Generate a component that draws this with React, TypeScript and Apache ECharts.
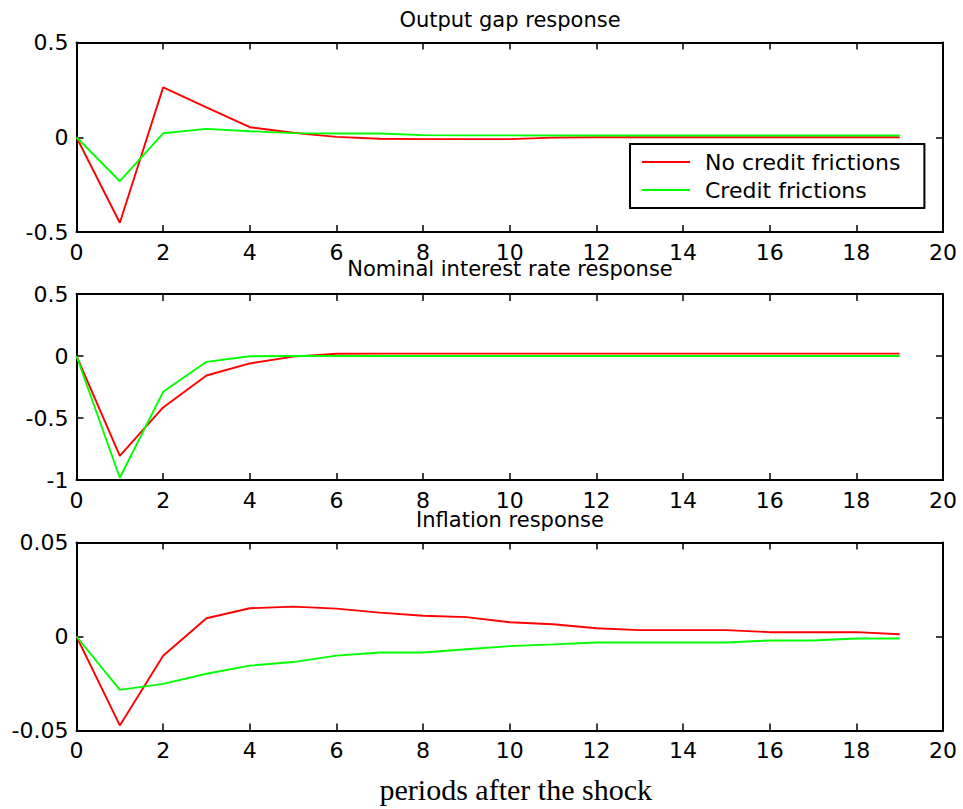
import React, { useEffect, useRef } from "react";
import * as echarts from "echarts";

const periods = [0, 1, 2, 3, 4, 5, 6, 7, 8, 9, 10, 11, 12, 13, 14, 15, 16, 17, 18, 19];

const seriesNames = ["No credit frictions", "Credit frictions"];
const panelTitles = ["Output gap response", "Nominal interest rate response", "Inflation response"];
const xLabel = "periods after the shock";

const outputGapNoFric = [0, -0.451, 0.263, 0.158, 0.053, 0.024, 0.002, -0.008, -0.01, -0.01, -0.01, -0.002, 0, 0, 0, 0, 0, 0, 0, 0];
const outputGapFric = [0, -0.232, 0.021, 0.044, 0.032, 0.022, 0.02, 0.02, 0.011, 0.01, 0.01, 0.009, 0.009, 0.009, 0.009, 0.009, 0.009, 0.009, 0.009, 0.009];

const rateNoFric = [0, -0.806, -0.415, -0.157, -0.06, -0.005, 0.018, 0.019, 0.019, 0.019, 0.019, 0.019, 0.019, 0.019, 0.019, 0.019, 0.019, 0.019, 0.019, 0.019];
const rateFric = [0, -0.982, -0.289, -0.047, -0.002, 0, 0, 0, 0, 0, 0, 0, 0, 0, 0, 0, 0, 0, 0, 0];

const inflNoFric = [0, -0.0473, -0.0102, 0.0097, 0.015, 0.0159, 0.0148, 0.0127, 0.011, 0.0103, 0.0076, 0.0065, 0.0044, 0.0034, 0.0034, 0.0034, 0.0023, 0.0023, 0.0023, 0.0012];
const inflFric = [0, -0.0284, -0.0252, -0.0198, -0.0155, -0.0136, -0.0102, -0.0085, -0.0085, -0.0068, -0.0051, -0.0042, -0.0032, -0.0032, -0.0032, -0.0032, -0.0021, -0.0021, -0.0011, -0.0011];

const yMins = [-0.5, -1, -0.05];
const yMaxs = [0.5, 0.5, 0.05];
const yIntervals = [0.5, 0.5, 0.05];

const xMin = 0;
const xMax = 20;
const xInterval = 2;

const RED = "#ff0000";
const GREEN = "#00ff00";

export default function App() {
  const ref = useRef<HTMLDivElement>(null);

  useEffect(() => {
    if (!ref.current) return;
    const chart = echarts.init(ref.current, undefined, { renderer: "svg" });

    const panels = [
      [outputGapNoFric, outputGapFric],
      [rateNoFric, rateFric],
      [inflNoFric, inflFric],
    ];

    const grids = [
      { left: 76.5, right: 20, top: 42.5, height: 189.5 },
      { left: 76.5, right: 20, top: 294, height: 186 },
      { left: 76.5, right: 20, top: 542.5, height: 188 },
    ];

    const labelFont = { fontFamily: "DejaVu Sans", fontSize: 22, color: "#000" };
    const axisLine = { show: true, onZero: false, lineStyle: { color: "#000", width: 2 } };
    const axisTick = { show: true, inside: true, length: 7, lineStyle: { color: "#000", width: 1.5 } };

    const xAxes: any[] = [];
    const yAxes: any[] = [];
    const series: any[] = [];

    grids.forEach((_, i) => {
      const base = {
        type: "value",
        gridIndex: i,
        min: xMin,
        max: xMax,
        interval: xInterval,
        splitLine: { show: false },
        axisLine,
        axisTick,
      };
      xAxes.push({
        ...base,
        position: "bottom",
        axisLabel: { ...labelFont, margin: 9 },
        ...(i === 2
          ? {
              name: xLabel,
              nameLocation: "middle",
              nameGap: 44,
              nameTextStyle: { fontFamily: "Liberation Serif", fontSize: 30, color: "#000", padding: [0, 0, 0, 12] },
            }
          : {}),
      });
      xAxes.push({ ...base, position: "top", axisLabel: { show: false } });

      const ybase = {
        type: "value",
        gridIndex: i,
        min: yMins[i],
        max: yMaxs[i],
        interval: yIntervals[i],
        splitLine: { show: false },
        axisLine,
        axisTick,
      };
      yAxes.push({ ...ybase, position: "left", axisLabel: { ...labelFont, margin: 8 } });
      yAxes.push({ ...ybase, position: "right", axisLabel: { show: false } });

      const [noFric, fric] = panels[i];
      series.push({
        name: seriesNames[0],
        type: "line",
        xAxisIndex: 2 * i,
        yAxisIndex: 2 * i,
        data: periods.map((p, k) => [p, noFric[k]]),
        showSymbol: false,
        symbol: "none",
        lineStyle: { color: RED, width: 1.9 },
        itemStyle: { color: RED },
        z: 3,
      });
      series.push({
        name: seriesNames[1],
        type: "line",
        xAxisIndex: 2 * i,
        yAxisIndex: 2 * i,
        data: periods.map((p, k) => [p, fric[k]]),
        showSymbol: false,
        symbol: "none",
        lineStyle: { color: GREEN, width: 1.9 },
        itemStyle: { color: GREEN },
        z: i === 0 ? 4 : 3,
      });
    });

    const titleTops = [9, 258, 509];

    chart.setOption({
      animation: false,
      backgroundColor: "#fff",
      title: panelTitles.map((t, i) => ({
        text: t,
        left: 510,
        top: titleTops[i],
        textAlign: "center",
        padding: 0,
        textStyle: { fontFamily: "DejaVu Sans", fontSize: 21, fontWeight: "normal", color: "#000" },
      })),
      grid: grids,
      xAxis: xAxes,
      yAxis: yAxes,
      legend: {
        data: seriesNames.map((n, i) => ({ name: n, itemStyle: { color: i === 0 ? RED : GREEN } })),
        orient: "vertical",
        left: 630,
        top: 144,
        padding: [4, 24, 4, 12],
        itemGap: 0,
        itemWidth: 48,
        itemHeight: 2,
        icon: "rect",
        backgroundColor: "#fff",
        borderColor: "#000",
        borderWidth: 2,
        borderRadius: 0,
        selectedMode: false,
        textStyle: {
          fontFamily: "DejaVu Sans",
          fontSize: 22,
          color: "#000",
          lineHeight: 28,
          padding: [0, 0, 0, 10],
        },
      },
      series,
    });

    return () => chart.dispose();
  }, []);

  return (
    <div
      ref={ref}
      style={{ position: "fixed", left: 0, top: 0, width: 963, height: 809, background: "#fff" }}
    />
  );
}
